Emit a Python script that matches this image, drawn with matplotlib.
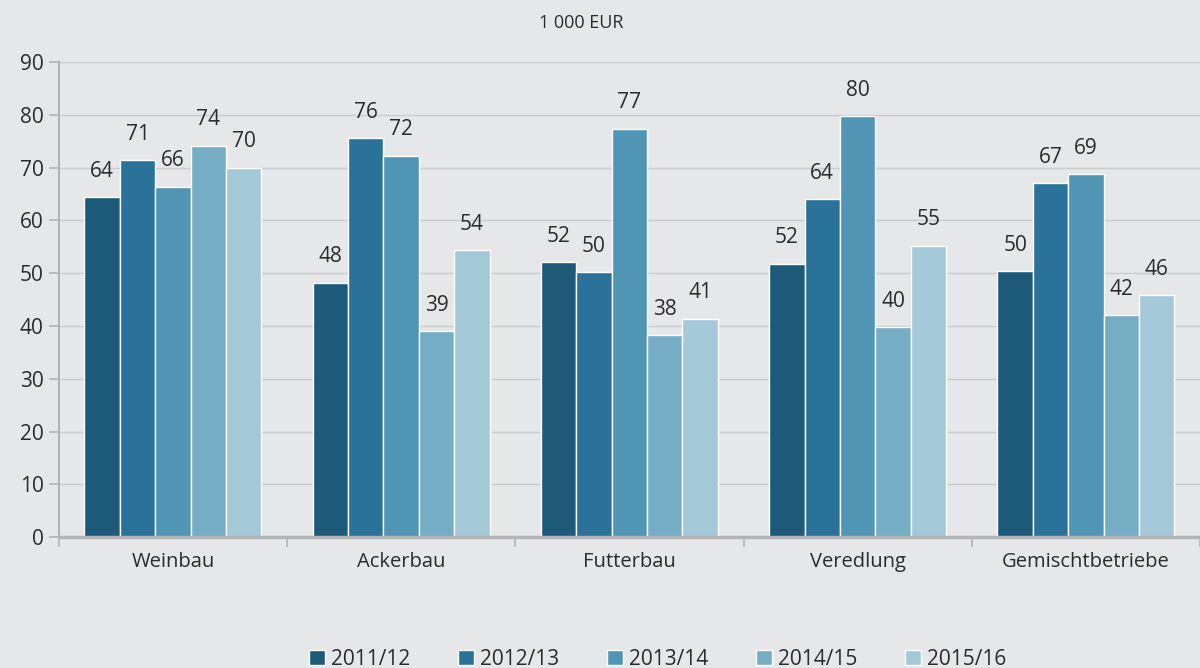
import numpy as np
import matplotlib.pyplot as plt

plt.rcParams['font.family'] = ['Open Sans', 'DejaVu Sans']

categories = ['Weinbau', 'Ackerbau', 'Futterbau', 'Veredlung', 'Gemischtbetriebe']
years = ['2011/12', '2012/13', '2013/14', '2014/15', '2015/16']
values = {
    '2011/12': [64.4, 48.2, 52.1, 51.8, 50.4],
    '2012/13': [71.4, 75.6, 50.2, 64.0, 67.0],
    '2013/14': [66.4, 72.3, 77.4, 79.7, 68.8],
    '2014/15': [74.2, 39.0, 38.3, 39.8, 42.0],
    '2015/16': [70.0, 54.4, 41.4, 55.2, 45.9],
}
colors = ['#1d5a7a', '#2a7299', '#5095b4', '#74adc4', '#a3c8d7']

bg = '#e6e7e9'
grid_col = '#cbccce'
text_col = '#2b2b2b'

fig = plt.figure(figsize=(12, 6.68), dpi=100, facecolor=bg)
ax = fig.add_axes([0.049, 0.196, 0.951, 0.711], facecolor=bg)

x = np.arange(len(categories))
w = 0.155
for i, yr in enumerate(years):
    pos = x + (i - 2) * w
    bars = ax.bar(pos, values[yr], width=w, color=colors[i],
                  edgecolor='white', linewidth=1.0, label=yr, zorder=3)
    for b, v in zip(bars, values[yr]):
        ax.text(b.get_x() + b.get_width() / 2, v + 2.9, f"{v:.0f}",
                ha='center', va='bottom', fontsize=15, color=text_col)

ax.set_xlim(-0.5, len(categories) - 0.5)
ax.set_ylim(0, 90)
ax.set_yticks(range(0, 91, 10))
ax.yaxis.grid(True, color=grid_col, linewidth=1.0, zorder=0)
ax.tick_params(axis='y', length=7, color='#b3b4b7', width=1.2,
               labelsize=15, labelcolor=text_col, pad=4)

ax.set_xticks(x)
ax.set_xticklabels(categories)
ax.set_xticks(np.arange(-0.5, len(categories), 1), minor=True)
ax.tick_params(axis='x', which='major', length=0, labelsize=14.5,
               labelcolor=text_col, pad=11)
ax.tick_params(axis='x', which='minor', length=7, color='#b3b4b7', width=1.2)

for s in ['top', 'right']:
    ax.spines[s].set_visible(False)
ax.spines['left'].set_color('#b3b4b7')
ax.spines['left'].set_linewidth(1.5)
ax.spines['bottom'].set_color('#b3b4b7')
ax.spines['bottom'].set_linewidth(2.5)
ax.spines['bottom'].set_zorder(4)

fig.text(0.484, 0.966, '1 000 EUR', ha='center', va='center',
         fontsize=13, color=text_col)

leg = fig.legend(loc='center', bbox_to_anchor=(0.548, 0.013), ncol=5,
                 frameon=False, fontsize=15, handlelength=0.75,
                 handleheight=0.75, handletextpad=0.3, columnspacing=2.3)
for t in leg.get_texts():
    t.set_color(text_col)

plt.savefig('out.png', dpi=100, facecolor=bg)
plt.close()
